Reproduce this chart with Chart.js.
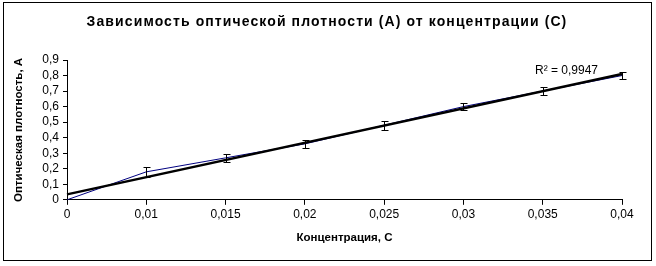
<!DOCTYPE html>
<html>
<head>
<meta charset="utf-8">
<script src="https://cdn.jsdelivr.net/npm/chart.js@4/dist/chart.umd.min.js"></script>
<style>
  html, body { margin: 0; padding: 0; background: #fff; }
  #wrap { position: relative; width: 656px; height: 266px; }
  #frame { position: absolute; left: 3px; top: 2px; width: 649px; height: 259px; border: 1px solid #000; box-sizing: border-box; pointer-events: none; }
</style>
</head>
<body>
<div id="wrap">
  <canvas id="chart" width="656" height="266"></canvas>
  <div id="frame"></div>
</div>
<script>
// концентрации (категории оси X)
const concLabels = ['0', '0,01', '0,015', '0,02', '0,025', '0,03', '0,035', '0,04'];
// оптическая плотность
const absorbance = [0, 0.18, 0.27, 0.36, 0.48, 0.60, 0.70, 0.80];
// погрешность
const errors = [0, 0.03, 0.025, 0.025, 0.03, 0.025, 0.025, 0.025];
// линия тренда (начало и конец, остальное пусто)
const trend = [0.035, null, null, null, null, null, null, 0.81];
const r2Text = 'R² = 0,9947';
const titleText = 'Зависимость оптической плотности (А) от концентрации (С)';

const font = 'Liberation Sans, Arial, sans-serif';

// заголовок, планки погрешностей и подпись R²
const extras = {
  id: 'extras',
  afterDatasetsDraw(chart) {
    const ctx = chart.ctx;
    const x = chart.scales.x;
    const y = chart.scales.y;
    ctx.save();
    ctx.strokeStyle = '#000';
    ctx.lineWidth = 1;
    absorbance.forEach((v, i) => {
      if (!errors[i]) return;
      const px = Math.round(x.getPixelForValue(i)) + 0.5;
      const top = Math.round(y.getPixelForValue(v + errors[i])) + 0.5;
      const bot = Math.round(y.getPixelForValue(v - errors[i])) + 0.5;
      ctx.beginPath();
      ctx.moveTo(px, top); ctx.lineTo(px, bot);
      ctx.moveTo(px - 3, top); ctx.lineTo(px + 4, top);
      ctx.moveTo(px - 3, bot); ctx.lineTo(px + 4, bot);
      ctx.stroke();
    });
    ctx.fillStyle = '#000';
    ctx.font = '12px ' + font;
    ctx.textAlign = 'right';
    ctx.textBaseline = 'middle';
    ctx.fillText(r2Text, x.getPixelForValue(7) - 24, y.getPixelForValue(0.83));

    // заголовок
    ctx.font = 'bold 14px ' + font;
    ctx.letterSpacing = '1.1px';
    ctx.textAlign = 'center';
    ctx.fillText(titleText, 327, 22.5);
    ctx.restore();
  }
};

new Chart(document.getElementById('chart'), {
  type: 'line',
  data: {
    labels: concLabels,
    datasets: [{
      label: 'trend',
      data: trend,
      borderColor: '#000',
      borderWidth: 2.5,
      pointRadius: 0,
      spanGaps: true,
      order: 0
    }, {
      label: 'A',
      data: absorbance,
      borderColor: '#000080',
      borderWidth: 1,
      pointRadius: 0,
      tension: 0,
      order: 1
    }]
  },
  options: {
    responsive: false,
    animation: false,
    layout: { padding: { top: 60, left: 12, right: 34, bottom: 17 } },
    plugins: {
      legend: { display: false },
      tooltip: { enabled: false },
      title: { display: false }
    },
    scales: {
      x: {
        offset: false,
        grid: { display: true, drawOnChartArea: false, offset: false, tickLength: 5, color: '#000' },
        border: { display: true, color: '#000', width: 1 },
        ticks: { color: '#000', font: { family: font, size: 12 }, padding: 3, maxRotation: 0, autoSkip: false },
        title: { display: true, text: 'Концентрация, С', color: '#000', font: { family: font, size: 11.5, weight: 'bold' }, padding: { top: 6 } }
      },
      y: {
        min: 0,
        max: 0.9,
        afterFit(scale) { scale.width = 55; },
        grid: { display: true, drawOnChartArea: false, tickLength: 4, color: '#000' },
        border: { display: true, color: '#000', width: 1 },
        ticks: {
          stepSize: 0.1,
          autoSkip: false,
          color: '#000',
          font: { family: font, size: 12 },
          padding: 4,
          callback: v => v === 0 ? '0' : v.toFixed(1).replace('.', ',')
        },
        title: { display: true, text: 'Оптическая плотность, А', color: '#000', font: { family: font, size: 11.5, weight: 'bold' }, padding: 0 }
      }
    }
  },
  plugins: [extras]
});
</script>
</body>
</html>
